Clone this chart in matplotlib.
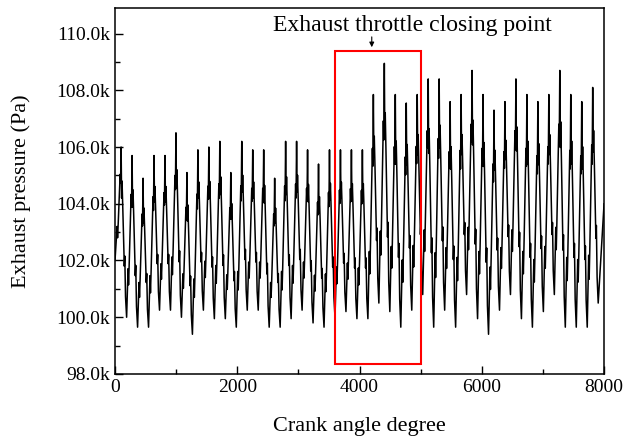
import numpy as np
import matplotlib
matplotlib.use("Agg")
import matplotlib.pyplot as plt
from matplotlib.patches import Rectangle
from matplotlib.ticker import MultipleLocator, FuncFormatter

plt.rcParams['font.family'] = ['Liberation Serif', 'DejaVu Serif']

# pressure peaks / troughs per exhaust pulse (kPa)
peaks = [106.0, 105.7, 104.9, 105.7, 105.7, 106.5, 105.1, 105.9, 106.0,
         106.2, 105.1, 106.2, 105.9, 105.9, 104.9, 106.2, 106.2, 105.9,
         105.4, 105.9, 105.9, 105.9, 105.9, 107.85, 108.95, 107.85, 107.55,
         107.85, 108.4, 108.4, 107.6, 107.85, 108.7, 107.85, 107.3, 107.6,
         108.4, 107.85, 107.6, 107.85, 108.7, 107.85, 107.6, 108.1]
troughs = [100.0, 99.65, 99.65, 100.25, 100.25, 100.0, 99.4, 100.25, 99.95,
           99.95, 99.65, 100.25, 100.25, 99.65, 99.65, 99.95, 100.25, 99.8,
           99.65, 100.0, 100.2, 99.95, 99.95, 100.5, 100.2, 99.65, 100.25,
           100.8, 99.65, 100.25, 99.65, 100.8, 99.95, 99.4, 100.25, 100.8,
           99.95, 99.65, 100.2, 100.8, 99.65, 99.65, 99.65, 100.5]
first_peak = 100      # crank angle of first pulse peak
pulse_period = 179.4  # crank degrees between pulses
start_value = 102.0
end_value = 104.0

# one pulse: offset from peak (deg), level between trough (0) and peak (1)
shape_deg = [-66, -58, -48, -16, -9, 0, 8, 15, 26, 52, 60, 72]
shape_frac = [0.30, 0.20, 0.32, 0.76, 0.68, 1.0, 0.70, 0.80, 0.66, 0.30, 0.36, 0.12]

angles = [0.0]
values = [start_value]
for k, (p, t) in enumerate(zip(peaks, troughs)):
    prev_t = troughs[k - 1] if k > 0 else start_value
    c = first_peak + k * pulse_period
    for d, f in zip(shape_deg, shape_frac):
        if c + d <= angles[-1]:
            continue
        base = prev_t if d < 0 else t
        values.append(base + f * (p - base))
        angles.append(c + d)
    angles.append(c + 90)
    values.append(t)
angles.append(8000)
values.append(end_value)

angles = np.array(angles)
values = np.array(values) * 1000

fig = plt.figure(figsize=(6.23, 4.45), dpi=100)
ax = fig.add_axes([0.1846, 0.1596, 0.785, 0.8224])
ax.plot(angles, values, color='black', lw=1.1)

ax.set_xlim(0, 8000)
ax.set_ylim(98000, 110900)
ax.xaxis.set_major_locator(MultipleLocator(2000))
ax.xaxis.set_minor_locator(MultipleLocator(1000))
ax.yaxis.set_major_locator(MultipleLocator(2000))
ax.yaxis.set_minor_locator(MultipleLocator(1000))
ax.yaxis.set_major_formatter(FuncFormatter(lambda v, pos: f"{v/1000:.1f}k"))
ax.tick_params(which='both', direction='in', top=False, right=False, labelsize=14)
ax.tick_params(which='major', length=6, width=1)
ax.tick_params(which='minor', length=3.5, width=1)
for s in ax.spines.values():
    s.set_linewidth(1.1)

ax.set_xlabel("Crank angle degree", fontsize=16, labelpad=15)
ax.set_ylabel("Exhaust pressure (Pa)", fontsize=16, labelpad=18)

ax.add_patch(Rectangle((3600, 98350), 1400, 109380 - 98350, fill=False,
                       edgecolor='red', lw=1.5, zorder=3))
ax.text(4860, 110280, "Exhaust throttle closing point", ha='center', va='center',
        fontsize=17)
ax.annotate("", xy=(4200, 109420), xytext=(4200, 109980),
            arrowprops=dict(arrowstyle='-|>', color='black', lw=0.8,
                            mutation_scale=7))

fig.savefig("out.png", dpi=100)
